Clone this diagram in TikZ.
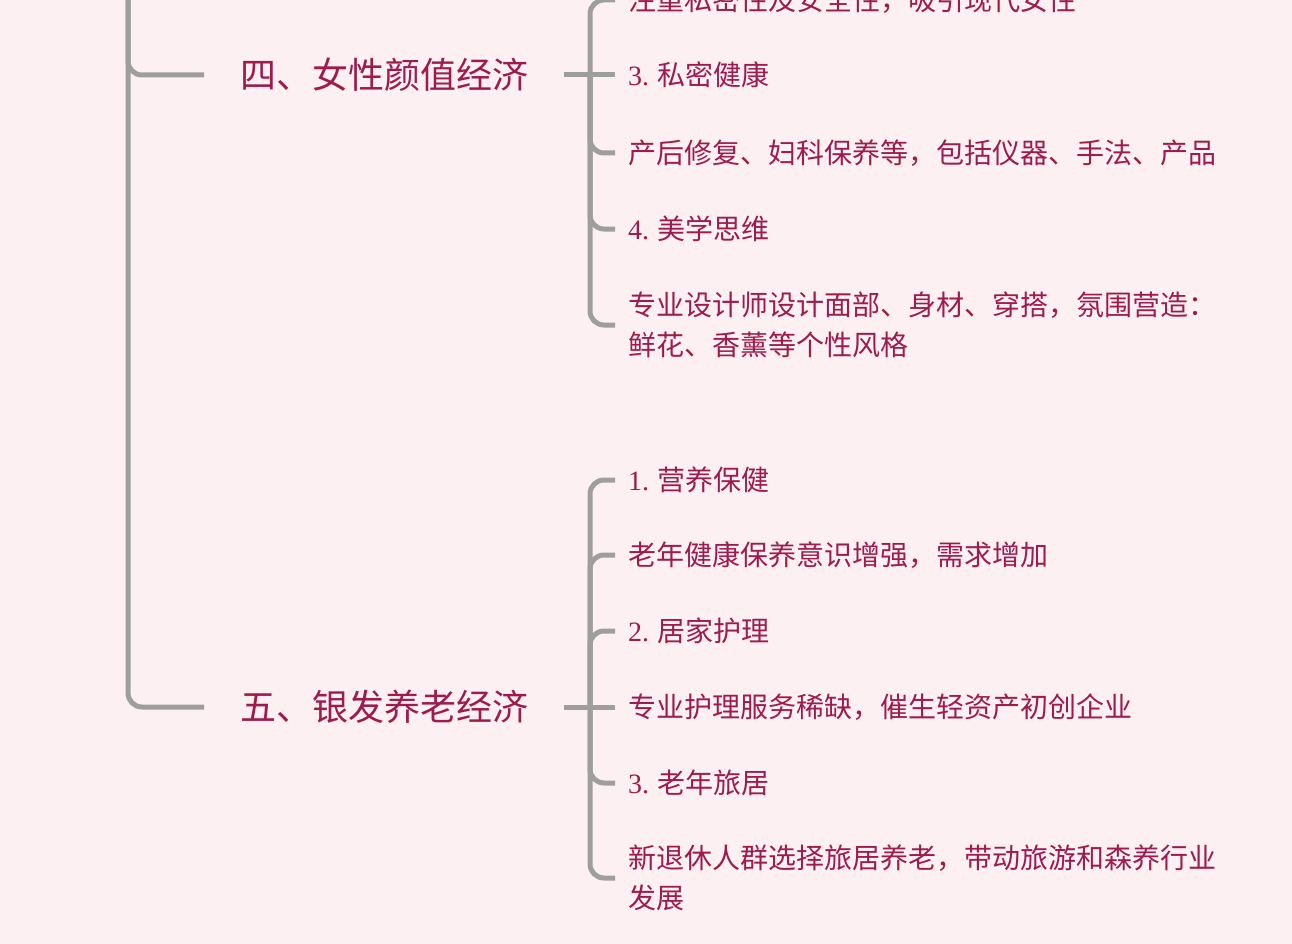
\documentclass[tikz,border=0pt]{standalone}
\usepackage{fontspec}
\newfontfamily\cjk{Noto Sans CJK SC}
\newfontfamily\numfont{Liberation Serif}
\definecolor{bgpink}{RGB}{253,240,243}
\definecolor{txtred}{RGB}{158,27,77}
\definecolor{linegray}{RGB}{158,158,158}
\tikzset{
  branch/.style={draw=linegray, line width=5pt, rounded corners=14pt},
  topic/.style={anchor=west, inner xsep=36pt, text=txtred, font=\cjk\fontsize{36}{40}\selectfont},
  leaf/.style={anchor=west, inner xsep=13pt, text=txtred, align=left, font=\cjk\fontsize{28}{40}\selectfont},
}
\begin{document}
\begin{tikzpicture}[x=1pt, y=-1pt]
      % 0. Background
      \fill[bgpink] (0,0) rectangle (1292,944);
      \useasboundingbox (0,0) rectangle (1292,944);

      % 1. Main topics
      \node[topic] (p4) at (204,75) {四、女性颜值经济};
      \node[topic] (p5) at (204,707) {五、银发养老经济};
      \coordinate (root) at (128,-60);
      \draw[branch] (root) |- (p4.west);
      \draw[branch] (root) |- (p5.west);

      % 2. Leaves of topic four
      \coordinate (j4) at (590,75);
      \node[leaf] (c41) at (615,0) {注重私密性及安全性，吸引现代女性};
      \node[leaf] (c42) at (615,75) {{\numfont 3.} 私密健康};
      \node[leaf] (c43) at (615,153) {产后修复、妇科保养等，包括仪器、手法、产品};
      \node[leaf] (c44) at (615,229) {{\numfont 4.} 美学思维};
      \node[leaf] (c45) at (615,325) {专业设计师设计面部、身材、穿搭，氛围营造：\\鲜花、香薰等个性风格};
      \draw[branch] (p4.east) -- (c42.west);
      \foreach \c in {c41,c43,c44,c45}
        \draw[branch] (j4) |- (\c.west);

      % 3. Leaves of topic five
      \coordinate (j5) at (590,707);
      \node[leaf] (c51) at (615,480) {{\numfont 1.} 营养保健};
      \node[leaf] (c52) at (615,555) {老年健康保养意识增强，需求增加};
      \node[leaf] (c53) at (615,631) {{\numfont 2.} 居家护理};
      \node[leaf] (c54) at (615,707) {专业护理服务稀缺，催生轻资产初创企业};
      \node[leaf] (c55) at (615,783) {{\numfont 3.} 老年旅居};
      \node[leaf] (c56) at (615,878) {新退休人群选择旅居养老，带动旅游和森养行业\\发展};
      \draw[branch] (p5.east) -- (c54.west);
      \foreach \c in {c51,c52,c53,c55,c56}
        \draw[branch] (j5) |- (\c.west);
\end{tikzpicture}
\end{document}
